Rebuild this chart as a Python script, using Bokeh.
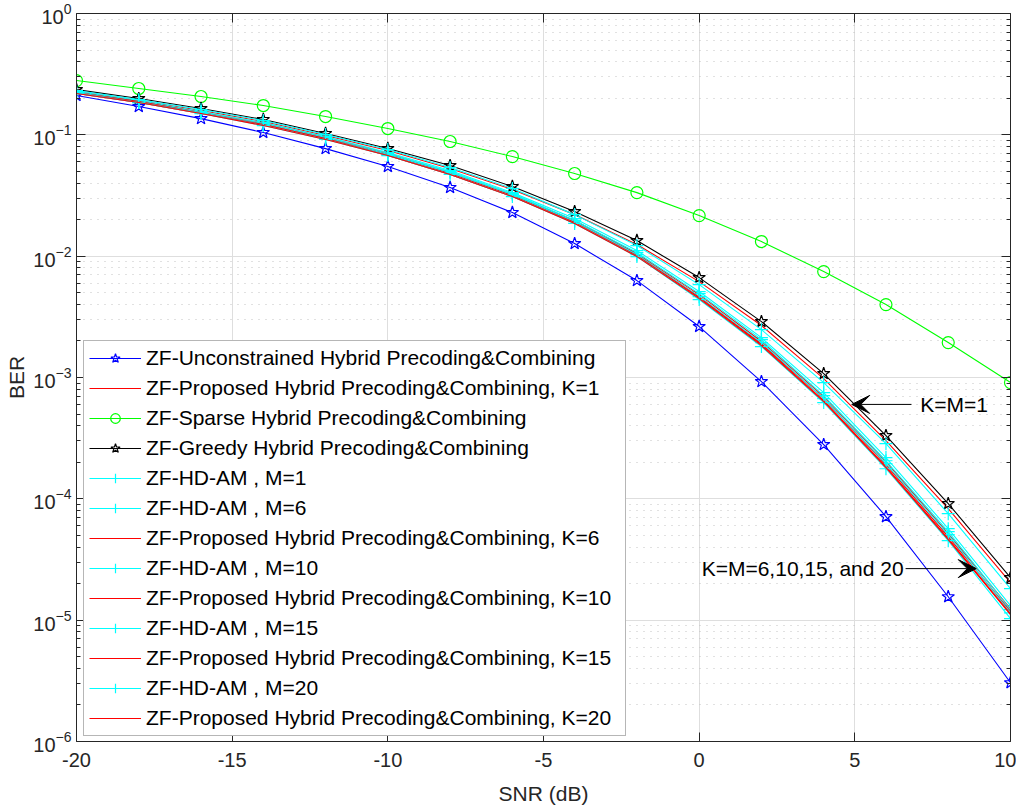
from bokeh.plotting import figure
from bokeh.models import (LogAxis, LinearAxis, Legend, LegendItem, Label, Arrow,
                          VeeHead, FixedTicker, Range1d)
from bokeh.embed import file_html
from bokeh.resources import INLINE

# ---------------- data ----------------
SNR = [-20, -18, -16, -14, -12, -10, -8, -6, -4, -2, 0, 2, 4, 6, 8, 10]

ber_unconstrained = [0.211, 0.171, 0.136, 0.1045, 0.077, 0.0548, 0.0368, 0.0229, 0.0127,
                     0.00629, 0.00263, 0.000925, 0.00028, 7.13e-5, 1.56e-5, 3.05e-6]
ber_prop_k1 = [0.2275, 0.1918, 0.1586, 0.1287, 0.0987, 0.0743, 0.0528, 0.0354, 0.0220,
               0.01246, 0.00617, 0.00268, 0.00098, 0.000302, 8.3e-5, 2.04e-5]
ber_sparse = [0.280, 0.241, 0.207, 0.1744, 0.1415, 0.1127, 0.0881, 0.0662, 0.048,
              0.0334, 0.0216, 0.0132, 0.00746, 0.00399, 0.00194, 0.000908]
ber_greedy = [0.236, 0.199, 0.1647, 0.1337, 0.1025, 0.0771, 0.0558, 0.0375, 0.0233,
              0.01345, 0.00666, 0.00289, 0.001077, 0.000332, 9.13e-5, 2.24e-5]
ber_hdam_m1 = [0.2318, 0.1954, 0.1616, 0.1312, 0.1006, 0.0756, 0.0537, 0.0361, 0.0220,
               0.01223, 0.00583, 0.00248, 0.000908, 0.000285, 7.55e-5, 1.82e-5]
ber_hdam_m6 = [0.2275, 0.1918, 0.1556, 0.1263, 0.0968, 0.0715, 0.0508, 0.0334, 0.0204,
               0.01112, 0.00511, 0.00213, 0.00075, 0.000219, 5.68e-5, 1.32e-5]
ber_prop_k6 = [0.2233, 0.1882, 0.1527, 0.124, 0.095, 0.0701, 0.0489, 0.0322, 0.0197,
               0.0105, 0.00482, 0.00198, 0.000696, 0.000203, 5.17e-5, 1.24e-5]
ber_hdam_m10 = [0.2233, 0.1882, 0.1527, 0.124, 0.095, 0.0701, 0.0498, 0.0328, 0.0197,
                0.0107, 0.00491, 0.00205, 0.00071, 0.000206, 5.37e-5, 1.22e-5]
ber_prop_k10 = [0.2233, 0.1882, 0.1527, 0.1216, 0.0932, 0.0688, 0.048, 0.0316, 0.0193,
                0.0103, 0.00464, 0.0019, 0.00067, 0.000191, 4.88e-5, 1.18e-5]
ber_hdam_m15 = [0.2233, 0.1846, 0.1527, 0.1216, 0.0932, 0.0688, 0.0489, 0.0322, 0.0193,
                0.0103, 0.00464, 0.00194, 0.00067, 0.000195, 5.07e-5, 1.15e-5]
ber_prop_k15 = [0.219, 0.1846, 0.1498, 0.1216, 0.0932, 0.0675, 0.0471, 0.031, 0.0189,
                0.0101, 0.00456, 0.00187, 0.000645, 0.000184, 4.7e-5, 1.13e-5]
ber_hdam_m20 = [0.219, 0.1846, 0.1498, 0.1193, 0.0915, 0.0675, 0.0471, 0.031, 0.0186,
                0.00992, 0.00439, 0.0018, 0.000621, 0.000177, 4.52e-5, 1.03e-5]
ber_prop_k20 = [0.219, 0.1846, 0.1498, 0.1193, 0.0915, 0.0675, 0.0471, 0.031, 0.0186,
                0.00992, 0.00447, 0.00183, 0.000633, 0.000181, 4.61e-5, 1.11e-5]

labels = [
    "ZF-Unconstrained Hybrid Precoding&Combining",
    "ZF-Proposed Hybrid Precoding&Combining, K=1",
    "ZF-Sparse Hybrid Precoding&Combining",
    "ZF-Greedy Hybrid Precoding&Combining",
    "ZF-HD-AM , M=1",
    "ZF-HD-AM , M=6",
    "ZF-Proposed Hybrid Precoding&Combining, K=6",
    "ZF-HD-AM , M=10",
    "ZF-Proposed Hybrid Precoding&Combining, K=10",
    "ZF-HD-AM , M=15",
    "ZF-Proposed Hybrid Precoding&Combining, K=15",
    "ZF-HD-AM , M=20",
    "ZF-Proposed Hybrid Precoding&Combining, K=20",
]
series_values = [ber_unconstrained, ber_prop_k1, ber_sparse, ber_greedy, ber_hdam_m1,
                 ber_hdam_m6, ber_prop_k6, ber_hdam_m10, ber_prop_k10, ber_hdam_m15,
                 ber_prop_k15, ber_hdam_m20, ber_prop_k20]
colors = ["#0000ff", "#ff0000", "#00ff00", "#000000", "#00ffff", "#00ffff", "#ff0000",
          "#00ffff", "#ff0000", "#00ffff", "#ff0000", "#00ffff", "#ff0000"]
markers = ["star", None, "circle", "star", "cross", "cross", None, "cross", None,
           "cross", None, "cross", None]

x_ticks = [-20, -15, -10, -5, 0, 5, 10]
x_tick_labels = ["-20", "-15", "-10", "-5", "0", "5", "10"]
y_ticks = [1e-6, 1e-5, 1e-4, 1e-3, 1e-2, 1e-1, 1]
y_minor = [k * d for d in y_ticks[:-1] for k in range(2, 10)]

FONT = "Liberation Sans"
AX = "#262626"

p = figure(frame_width=934, frame_height=728, x_axis_type="linear", y_axis_type="log",
           x_range=Range1d(-20, 10), y_range=Range1d(1e-6, 1),
           output_backend="svg", toolbar_location=None,
           min_border_left=76, min_border_right=6, min_border_top=13, min_border_bottom=64,
           background_fill_color="white", border_fill_color="white")
p.outline_line_color = None

xt = FixedTicker(ticks=x_ticks, minor_ticks=[])
yt = FixedTicker(ticks=y_ticks, minor_ticks=y_minor)

for ax in p.xaxis:
    ax.ticker = xt
    ax.axis_label = "SNR (dB)"
    ax.major_label_overrides = dict(zip(x_ticks, x_tick_labels))
for ax in p.yaxis:
    ax.ticker = yt
    ax.axis_label = "BER"

for ax in list(p.xaxis) + list(p.yaxis):
    ax.axis_line_color = AX
    ax.major_tick_line_color = AX
    ax.minor_tick_line_color = AX
    ax.major_tick_in = 9
    ax.major_tick_out = 0
    ax.minor_tick_in = 4
    ax.minor_tick_out = 0
    ax.major_label_text_font = FONT
    ax.major_label_text_font_size = "20px"
    ax.major_label_text_color = AX
    ax.axis_label_text_font = FONT
    ax.axis_label_text_font_size = "21px"
    ax.axis_label_text_font_style = "normal"
    ax.axis_label_text_color = AX
p.xaxis.major_label_standoff = 11
p.xaxis.axis_label_standoff = 12
p.yaxis.major_label_standoff = 5
p.yaxis.axis_label_standoff = 2

# box axes (top / right) with inward ticks and invisible labels
top = LinearAxis(ticker=xt, major_label_text_font_size="1px", major_label_text_alpha=0,
                 major_label_standoff=0, major_tick_in=9, major_tick_out=0,
                 minor_tick_line_color=None, axis_line_color=AX, major_tick_line_color=AX)
right = LogAxis(ticker=yt, major_label_text_font_size="1px", major_label_text_alpha=0,
                major_label_standoff=0, major_tick_in=9, major_tick_out=0,
                minor_tick_in=4, minor_tick_out=0, axis_line_color=AX,
                major_tick_line_color=AX, minor_tick_line_color=AX)
p.add_layout(top, "above")
p.add_layout(right, "right")

# grids
p.xgrid.ticker = xt
p.ygrid.ticker = yt
p.xgrid.grid_line_color = "#dedede"
p.ygrid.grid_line_color = "#dedede"
p.ygrid.minor_grid_line_color = "#bdbdbd"
p.ygrid.minor_grid_line_dash = "1 6"
p.ygrid.minor_grid_line_alpha = 0.9

items = []
for lab, vals, col, mk in zip(labels, series_values, colors, markers):
    rs = [p.line(SNR, vals, line_color=col, line_width=1.1)]
    if mk is not None:
        rs.append(p.scatter(SNR, vals, marker=mk, size=13 if mk != "circle" else 12,
                            line_color=col, fill_color=None, line_width=1.2))
    items.append(LegendItem(label=lab, renderers=rs))

legend = Legend(items=items, location=(7, 5), padding=5, margin=0, spacing=6,
                label_height=24, glyph_height=24, glyph_width=52, label_standoff=5,
                label_width=474,
                label_text_font=FONT, label_text_font_size="21px",
                label_text_color="#000000", border_line_color="#6e6e6e",
                border_line_width=1, background_fill_color="white",
                background_fill_alpha=1.0)
p.add_layout(legend, "center")

# annotations
ann1_y = 6.0e-4
p.add_layout(Arrow(end=VeeHead(size=18, fill_color="black", line_color="black"),
                   x_start=6.82, y_start=ann1_y, x_end=4.9, y_end=ann1_y,
                   line_color="black", line_width=1))
p.add_layout(Label(x=7.1, y=ann1_y, text="K=M=1", text_font=FONT,
                   text_font_size="21px", text_baseline="middle", text_color="black"))

ann2_y = 2.66e-5
p.add_layout(Arrow(end=VeeHead(size=18, fill_color="black", line_color="black"),
                   x_start=6.63, y_start=ann2_y, x_end=8.9, y_end=ann2_y,
                   line_color="black", line_width=1))
p.add_layout(Label(x=0.08, y=ann2_y, text="K=M=6,10,15, and 20", text_font=FONT,
                   text_font_size="21px", text_baseline="middle", text_color="black"))

open("out.html", "w").write(file_html(p, INLINE))
